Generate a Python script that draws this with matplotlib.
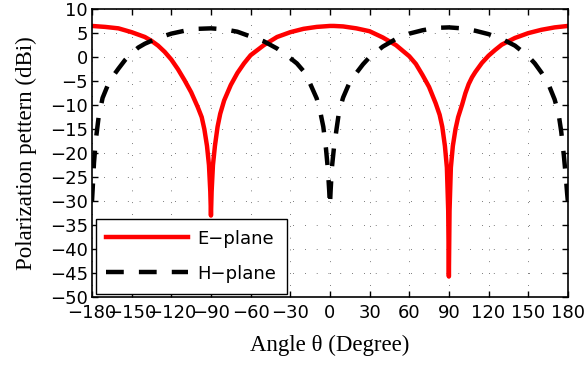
import matplotlib
matplotlib.use("Agg")
import matplotlib.pyplot as plt

# E-plane (red, solid)
theta_e = [-180, -170, -160, -150, -140, -135, -130, -125, -120, -115, -110, -105,
           -100, -97, -95, -93, -91.5, -90.5, -90, -89.5, -88.5, -87, -85,
           -83, -80, -75, -70, -65, -60, -50, -40, -30, -20, -10, 0, 3, 10,
           20, 30, 40, 50, 60, 65, 70, 75, 80, 83, 85, 87, 88.5, 89.5, 90,
           90.5, 91.5, 93, 95, 97, 100, 102.5, 105, 107.5, 110, 115, 120, 125,
           130, 140, 150, 160, 170, 180]
e_plane = [6.5, 6.3, 6.0, 5.2, 4.2, 3.4, 2.4, 1.1, -0.5, -2.5, -4.8, -7.3,
           -10.4, -12.5, -15.0, -18.5, -22.5, -28.0, -33.0, -28.0, -22.5, -18.5, -14.5,
           -11.8, -9.0, -5.8, -3.3, -1.3, 0.4, 2.5, 4.2, 5.2, 5.9, 6.3, 6.5, 6.5, 6.4,
           6.0, 5.4, 4.1, 2.5, 0.2, -1.4, -3.7, -6.2, -9.6, -12.0, -14.5, -18.5, -23.0, -32.0, -45.7,
           -32.0, -23.0, -18.5, -15.0, -12.5, -9.9, -7.5, -5.6, -4.2, -3.1, -1.2, 0.3, 1.5,
           2.6, 4.0, 5.0, 5.7, 6.2, 6.5]

# H-plane (black, dashed)
theta_h = [-180, -179.5, -178.5, -177, -175, -172, -168, -165, -160, -155, -150,
           -145, -140, -130, -120, -110, -100, -90, -80, -70, -60, -50, -40,
           -30, -25, -20, -15, -10, -7, -5, -3, -1.5, -0.5, 0, 0.5, 1.5, 3, 5,
           7, 10, 15, 20, 25, 30, 40, 50, 60, 70, 80, 90, 100, 110, 120, 130,
           140, 150, 155, 160, 165, 170, 173, 175, 177, 178.5, 179.5, 180]
h_plane = [-30.0, -27.5, -22.0, -17.0, -12.5, -8.5, -5.8, -4.3, -2.4, -0.6, 0.8,
           2.0, 2.8, 4.0, 4.9, 5.5, 5.9, 6.0, 5.8, 5.3, 4.3, 3.3, 1.8,
           -0.2, -1.3, -2.9, -5.5, -8.6, -11.8, -14.5, -19.0, -23.5, -28.0, -31.0, -28.0, -23.0, -19.0, -15.0,
           -11.2, -8.4, -5.2, -3.3, -1.5, 0.0, 2.2, 3.8, 4.9, 5.6, 6.1, 6.2, 6.0, 5.5, 4.8, 3.8,
           2.4, 0.2, -1.3, -3.2, -5.4, -8.8, -11.8, -15.5, -20.5, -25.0, -28.5, -30.0]

x_ticks = list(range(-180, 181, 30))
y_ticks = list(range(-50, 11, 5))

fig = plt.figure(figsize=(5.86, 3.66), dpi=100)
ax = fig.add_axes([0.157, 0.188, 0.812, 0.787])

ax.plot(theta_e, e_plane, color="red", linewidth=3.2, label="E\u2212plane")
ax.plot(theta_h, h_plane, color="black", linewidth=3.2,
        linestyle=(0, (4.0, 3.4)), label="H\u2212plane")

ax.set_xlim(-180, 180)
ax.set_ylim(-50, 10)
ax.set_xticks(x_ticks)
ax.set_yticks(y_ticks)

sans = "DejaVu Sans"
serif = "Liberation Serif"
ax.tick_params(direction="in", top=True, right=True, length=4, width=1,
               labelsize=13)
ax.tick_params(axis="x", pad=5)
ax.tick_params(axis="y", pad=3)
for lab in ax.get_xticklabels() + ax.get_yticklabels():
    lab.set_fontfamily(sans)

ax.grid(True, color="black", linewidth=0.5, linestyle=(0, (1, 16)))
for spine in ax.spines.values():
    spine.set_linewidth(1.2)

ax.set_xlabel("Angle \u03b8 (Degree)", fontfamily=serif, fontsize=16.5, labelpad=9)
ax.set_ylabel("Polarization pettern (dBi)", fontfamily=serif, fontsize=16.5, labelpad=9)

leg = ax.legend(loc="lower left", prop={"family": sans, "size": 13},
                handlelength=4.5, handletextpad=0.55, fancybox=False,
                edgecolor="black", framealpha=1, borderaxespad=0.2,
                labelspacing=0.95, borderpad=0.6)
leg.get_frame().set_linewidth(1)

fig.savefig("out.png", dpi=100)
